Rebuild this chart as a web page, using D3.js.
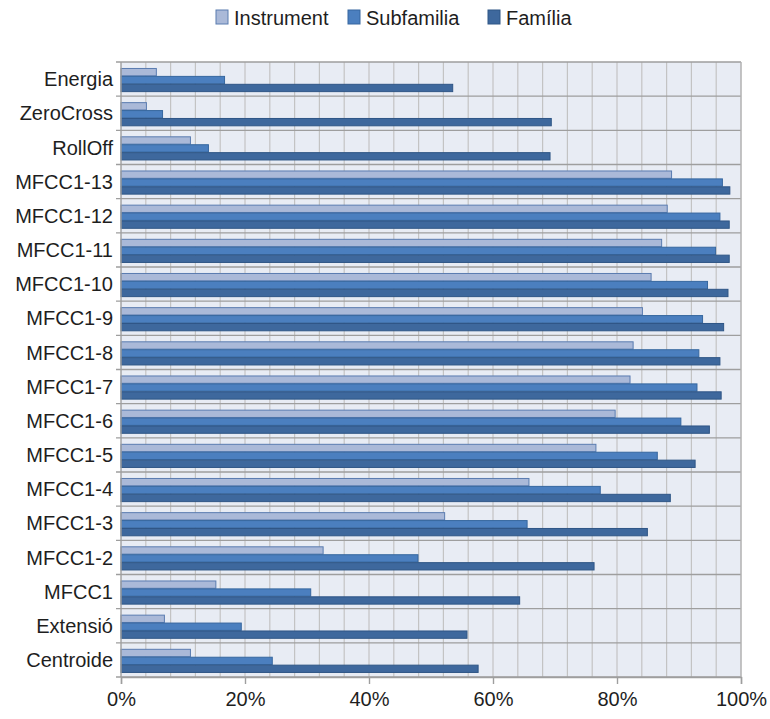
<!DOCTYPE html>
<html>
<head>
<meta charset="utf-8">
<script src="https://cdn.jsdelivr.net/npm/d3@7"></script>
<style>
  html, body { margin: 0; padding: 0; background: #ffffff; }
  svg text { font-family: "Liberation Sans", Arial, sans-serif; fill: #1e1e1e; }
</style>
</head>
<body>
<svg id="chart" width="770" height="719"></svg>
<script>
// Feature sets, top to bottom
const categories = ["Energia", "ZeroCross", "RollOff", "MFCC1-13", "MFCC1-12", "MFCC1-11",
  "MFCC1-10", "MFCC1-9", "MFCC1-8", "MFCC1-7", "MFCC1-6", "MFCC1-5", "MFCC1-4",
  "MFCC1-3", "MFCC1-2", "MFCC1", "Extensió", "Centroide"];

const seriesNames = ["Instrument", "Subfamilia", "Família"];

// Recognition rate (%) per feature set
const instrument = [5.7, 4.1, 11.2, 88.8, 88.1, 87.2, 85.5, 84.1, 82.6, 82.1, 79.7, 76.6, 65.8, 52.2, 32.6, 15.3, 7.0, 11.2];
const subfamilia = [16.7, 6.7, 14.1, 97.0, 96.6, 95.9, 94.6, 93.8, 93.2, 92.9, 90.3, 86.5, 77.3, 65.5, 47.9, 30.6, 19.4, 24.4];
const familia    = [53.5, 69.4, 69.2, 98.2, 98.1, 98.1, 97.9, 97.2, 96.6, 96.8, 94.9, 92.6, 88.6, 84.9, 76.3, 64.3, 55.8, 57.6];

const xTicks = [0, 20, 40, 60, 80, 100];

const seriesValues = [instrument, subfamilia, familia];
const fills   = ["#aab9d8", "#4b7fbf", "#3e689d"];
const strokes = ["#5a7cb0", "#36679f", "#2f5686"];

const svg = d3.select("#chart");
const plot = { left: 121, right: 741, top: 62, bottom: 677 };

const x = d3.scaleLinear().domain([0, 100]).range([plot.left, plot.right]);
const y = d3.scaleBand().domain(categories).range([plot.top, plot.bottom]).padding(0);
const bw = y.bandwidth();
const ySub = d3.scaleBand().domain(seriesNames).range([bw * 0.175, bw * 0.87]).padding(0);

// plot background
svg.append("rect")
  .attr("x", plot.left).attr("y", plot.top)
  .attr("width", plot.right - plot.left).attr("height", plot.bottom - plot.top)
  .attr("fill", "#e8ecf4");

// vertical grid every 4%
const gridVals = d3.range(4, 101, 4);
svg.append("g").selectAll("line").data(gridVals).join("line")
  .attr("x1", d => x(d)).attr("x2", d => x(d))
  .attr("y1", plot.top).attr("y2", plot.bottom)
  .attr("stroke", "#c3c3c3").attr("stroke-width", 1.2);

// horizontal separators between categories
const sepVals = categories.map(c => y(c)).concat([plot.bottom]);
svg.append("g").selectAll("line").data(sepVals).join("line")
  .attr("x1", plot.left - 5).attr("x2", plot.right)
  .attr("y1", d => d).attr("y2", d => d)
  .attr("stroke", "#9e9e9e").attr("stroke-width", 1.4);

// bars
const groups = svg.append("g").selectAll("g").data(categories).join("g")
  .attr("transform", c => `translate(0,${y(c)})`);

groups.selectAll("rect")
  .data((c, i) => seriesNames.map((s, k) => ({ s, k, v: seriesValues[k][i] })))
  .join("rect")
  .attr("x", x(0))
  .attr("y", d => ySub(d.s) + 0.5)
  .attr("width", d => x(d.v) - x(0))
  .attr("height", ySub.bandwidth() - 0.6)
  .attr("fill", d => fills[d.k])
  .attr("stroke", d => strokes[d.k])
  .attr("stroke-width", 1);

// left axis line
svg.append("line")
  .attr("x1", plot.left).attr("x2", plot.left)
  .attr("y1", plot.top).attr("y2", plot.bottom)
  .attr("stroke", "#9e9e9e").attr("stroke-width", 1.4);

// right border
svg.append("line")
  .attr("x1", plot.right).attr("x2", plot.right)
  .attr("y1", plot.top).attr("y2", plot.bottom)
  .attr("stroke", "#b5b5b5").attr("stroke-width", 1.2);

// category labels
svg.append("g").selectAll("text").data(categories).join("text")
  .attr("x", plot.left - 8)
  .attr("y", c => y(c) + bw / 2)
  .attr("dy", "0.36em")
  .attr("text-anchor", "end")
  .attr("font-size", 20)
  .text(c => c);

// bottom axis
const xAxis = d3.axisBottom(x).tickValues(xTicks).tickFormat(d => d + "%").tickSize(7).tickPadding(8);
const gx = svg.append("g").attr("transform", `translate(0,${plot.bottom})`).call(xAxis);
gx.select(".domain").attr("stroke", "#9e9e9e").attr("stroke-width", 1.4);
gx.selectAll(".tick line").attr("stroke", "#9e9e9e").attr("stroke-width", 1.4);
gx.selectAll(".tick text")
  .attr("font-size", 20)
  .attr("font-family", "Liberation Sans, Arial, sans-serif")
  .attr("fill", "#1e1e1e");

// legend
const legendX = [216, 348, 488];
const legend = svg.append("g").selectAll("g").data(seriesNames).join("g")
  .attr("transform", (d, i) => `translate(${legendX[i]},10)`);
legend.append("rect")
  .attr("width", 12).attr("height", 14)
  .attr("fill", (d, i) => fills[i])
  .attr("stroke", (d, i) => strokes[i]);
legend.append("text")
  .attr("x", 18).attr("y", 7.5)
  .attr("dy", "0.36em")
  .attr("font-size", 20)
  .text(d => d);
</script>
</body>
</html>
